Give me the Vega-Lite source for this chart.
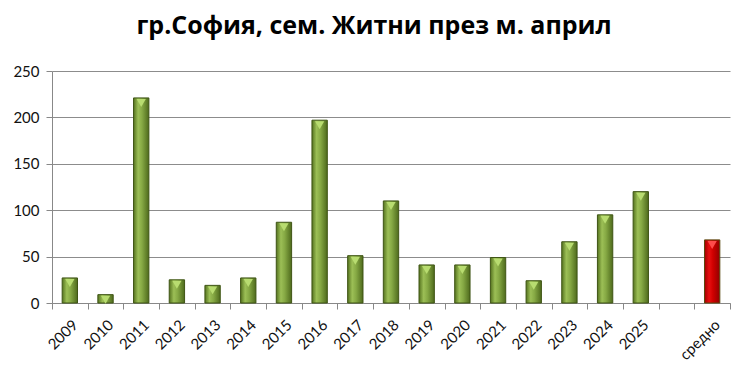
{
  "$schema": "https://vega.github.io/schema/vega-lite/v6.json",
  "width": 678,
  "height": 232,
  "autosize": "none",
  "padding": {"left": 52, "top": 71, "right": 19, "bottom": 75},
  "background": "white",
  "title": {
    "text": "гр.София, сем. Житни през м. април",
    "font": "Open Sans",
    "fontSize": 25,
    "fontWeight": "bold",
    "color": "#000000",
    "anchor": "middle",
    "dx": -17,
    "offset": 25
  },
  "config": {
    "view": {"stroke": null},
    "font": "Lato",
    "axis": {"labelFont": "Lato", "labelColor": "#111111", "labelFontSize": 15}
  },
  "data": {
    "values": [
      {"year": "2009", "value": 27, "kind": "year"},
      {"year": "2010", "value": 9, "kind": "year"},
      {"year": "2011", "value": 221, "kind": "year"},
      {"year": "2012", "value": 25, "kind": "year"},
      {"year": "2013", "value": 19, "kind": "year"},
      {"year": "2014", "value": 27, "kind": "year"},
      {"year": "2015", "value": 87, "kind": "year"},
      {"year": "2016", "value": 197, "kind": "year"},
      {"year": "2017", "value": 51, "kind": "year"},
      {"year": "2018", "value": 110, "kind": "year"},
      {"year": "2019", "value": 41, "kind": "year"},
      {"year": "2020", "value": 41, "kind": "year"},
      {"year": "2021", "value": 49, "kind": "year"},
      {"year": "2022", "value": 24, "kind": "year"},
      {"year": "2023", "value": 66, "kind": "year"},
      {"year": "2024", "value": 95, "kind": "year"},
      {"year": "2025", "value": 120, "kind": "year"},
      {"year": "средно", "value": 68, "kind": "avg"}
    ]
  },
  "encoding": {
    "x": {
      "field": "year",
      "type": "nominal",
      "sort": null,
      "scale": {
        "domain": ["2009","2010","2011","2012","2013","2014","2015","2016","2017","2018","2019","2020","2021","2022","2023","2024","2025"," ","средно"],
        "paddingInner": 0,
        "paddingOuter": 0
      },
      "axis": {
        "title": null,
        "labelAngle": -45,
        "tickBand": "extent",
        "ticks": true,
        "tickSize": 6,
        "tickColor": "#888888",
        "domainColor": "#888888",
        "labelPadding": 8
      }
    },
    "y": {
      "field": "value",
      "type": "quantitative",
      "scale": {"domain": [0, 250], "nice": false},
      "axis": {
        "title": null,
        "values": [0, 50, 100, 150, 200, 250],
        "grid": true,
        "gridColor": "#8c8c8c",
        "gridWidth": 1.2,
        "domainColor": "#888888",
        "tickColor": "#888888",
        "tickSize": 6,
        "labelPadding": 7
      }
    }
  },
  "layer": [
    {
      "transform": [{"filter": "datum.kind === 'year'"}],
      "mark": {
        "type": "bar",
        "width": {"band": 0.43},
        "stroke": "#3f5515",
        "strokeWidth": 1,
        "fill": {
          "gradient": "linear", "x1": 0, "x2": 1, "y1": 0, "y2": 0,
          "stops": [
            {"offset": 0, "color": "#55731f"},
            {"offset": 0.3, "color": "#9cbf56"},
            {"offset": 0.55, "color": "#86a944"},
            {"offset": 1, "color": "#4e6a1c"}
          ]
        }
      },
      "encoding": {}
    },
    {
      "transform": [{"filter": "datum.kind === 'avg'"}],
      "mark": {
        "type": "bar",
        "width": {"band": 0.43},
        "stroke": "#5a4a10",
        "strokeWidth": 1,
        "fill": {
          "gradient": "linear", "x1": 0, "x2": 1, "y1": 0, "y2": 0,
          "stops": [
            {"offset": 0, "color": "#a00000"},
            {"offset": 0.3, "color": "#e81010"},
            {"offset": 0.55, "color": "#d00000"},
            {"offset": 1, "color": "#900000"}
          ]
        }
      },
      "encoding": {}
    },
    {
      "transform": [{"filter": "datum.kind === 'year'"}],
      "mark": {"type": "point", "shape": "triangle-down", "filled": true, "size": 85, "yOffset": 5, "color": "#b8dc70", "opacity": 1},
      "encoding": {}
    },
    {
      "transform": [{"filter": "datum.kind === 'avg'"}],
      "mark": {"type": "point", "shape": "triangle-down", "filled": true, "size": 85, "yOffset": 5, "color": "#ff4a4a", "opacity": 1},
      "encoding": {}
    }
  ]
}
